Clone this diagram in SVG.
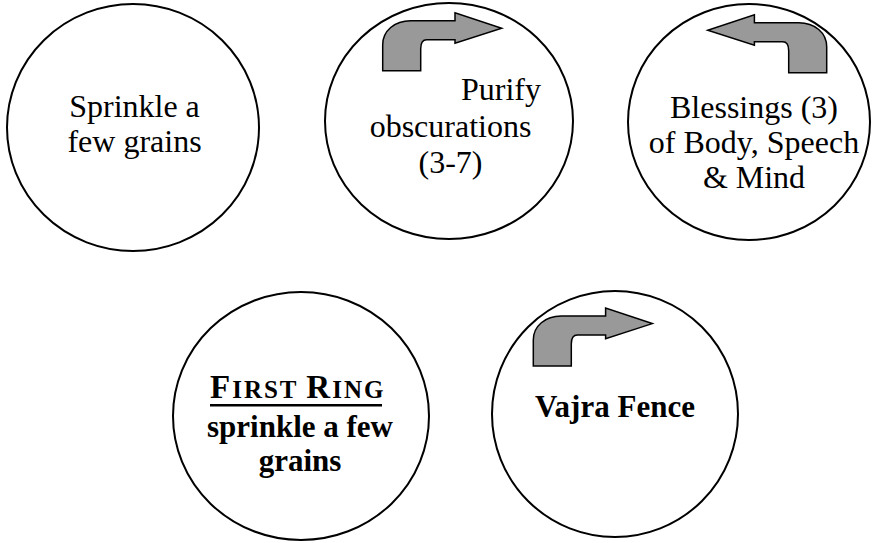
<svg xmlns="http://www.w3.org/2000/svg" xmlns:xlink="http://www.w3.org/1999/xlink" width="872" height="543" viewBox="0 0 872 543">
<style>
.ring{fill:#fff;stroke:#000;stroke-width:2}
.arrow{fill:#999;stroke:#000;stroke-width:1.5;stroke-linejoin:miter}
.t{font-family:"Liberation Serif","Times New Roman",serif;font-size:32px;fill:#000}
.b{font-family:"Liberation Serif","Times New Roman",serif;font-size:31px;font-weight:bold;fill:#000}
.m{text-anchor:middle}
</style>
<defs>
<path id="bent" d="M0,0 V-26 C0,-40 12,-50 28,-50 H72.3 V-58 L119,-42.4 L72.3,-27.4 V-31 H44 C40,-31 38,-27 38,-22 V0 Z"/>
</defs>
<rect width="872" height="543" fill="#fff"/>
<g id="connectors"></g>
<g id="node-sprinkle">
<ellipse class="ring" cx="133" cy="127.5" rx="126" ry="123.5"/>
<text class="t m" x="134.5" y="117">Sprinkle a</text>
<text class="t m" x="134.5" y="152">few grains</text>
</g>
<g id="node-purify">
<ellipse class="ring" cx="449" cy="121" rx="124" ry="118"/>
<use href="#bent" class="arrow" transform="translate(382.7,70.7)"/>
<text class="t" x="461" y="100">Purify</text>
<text class="t m" x="450.5" y="137">obscurations</text>
<text class="t m" x="450.5" y="173">(3-7)</text>
</g>
<g id="node-blessings">
<ellipse class="ring" cx="749" cy="122" rx="121" ry="118"/>
<use href="#bent" class="arrow" transform="translate(826.7,72.7) scale(-1,1)"/>
<text class="t m" x="754" y="117.5">Blessings (3)</text>
<text class="t m" x="754" y="152.5">of Body, Speech</text>
<text class="t m" x="754" y="188">&amp; Mind</text>
</g>
<g id="node-first-ring">
<ellipse class="ring" cx="301" cy="416" rx="128" ry="124"/>
<text class="b" x="210" y="398" letter-spacing="2"><tspan font-size="33">F</tspan><tspan font-size="25">IRST </tspan><tspan font-size="33">R</tspan><tspan font-size="25">ING</tspan></text>
<rect x="210" y="404" width="172" height="2.5" fill="#000"/>
<text class="b m" x="300" y="437">sprinkle a few</text>
<text class="b m" x="300" y="471">grains</text>
</g>
<g id="node-vajra">
<ellipse class="ring" cx="615" cy="414" rx="123" ry="123"/>
<use href="#bent" class="arrow" transform="translate(533.3,366)"/>
<text class="b m" x="615" y="417">Vajra Fence</text>
</g>
</svg>
